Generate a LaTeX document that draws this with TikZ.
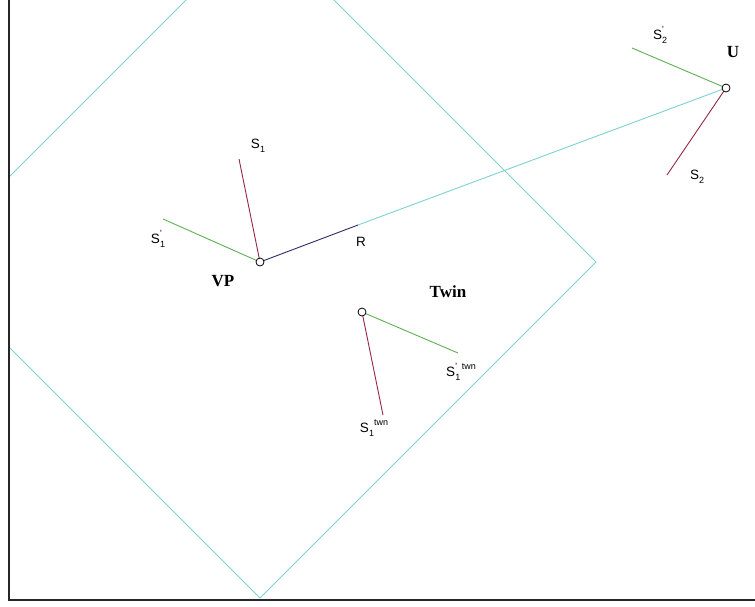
\documentclass[tikz,border=0pt]{standalone}
\usepackage{fontspec}
\setmainfont{Liberation Serif}
\newfontfamily\lsans{Liberation Sans}
\newcommand\smallidx{\fontsize{9}{9}\selectfont}
\newcommand\SP[3]{S\rlap{\raisebox{1.0ex}{\smallidx #2}}\raisebox{-0.55ex}{\smallidx #1}\raisebox{1.0ex}{\smallidx #3}}
\definecolor{greenl}{RGB}{95,175,85}
\definecolor{maroonl}{RGB}{150,40,65}
\definecolor{cyanl}{RGB}{125,210,210}
\definecolor{navyl}{RGB}{45,45,100}
\begin{document}
\begin{tikzpicture}[x=1pt,y=-1pt,
  pt/.style={circle,draw=black,line width=0.8pt,inner sep=0pt,minimum size=8pt,fill=white},
  boldlab/.style={font=\bfseries\fontsize{17}{17}\selectfont},
  slab/.style={font=\lsans\fontsize{13.5}{13.5}\selectfont,inner sep=1pt},
  gseg/.style={draw=greenl,line width=0.9pt},
  mseg/.style={draw=maroonl,line width=0.9pt},
  cseg/.style={draw=cyanl,line width=0.9pt},
  nseg/.style={draw=navyl,line width=0.9pt},
  frame/.style={draw=black!85,line width=2pt}]
\useasboundingbox (0,0) rectangle (755,606);
\fill[white] (0,0) rectangle (755,606);
% rotated square around VP
\begin{scope}
\clip (10,0) rectangle (755,599);
\draw[cseg] (260,-74) -- (596,262) -- (260,598) -- (-76,262) -- cycle;
\end{scope}
% frame
\draw[frame] (9,0) -- (9,600) -- (755,600);
% coordinates
\coordinate (s1end) at (239,159);
\coordinate (s1pend) at (163,219);
\coordinate (rend) at (358,225);
\coordinate (s2pend) at (632,48);
\coordinate (s2end) at (667,175);
\coordinate (tgend) at (458,353);
\coordinate (tmend) at (383,415);
% segments
\draw[cseg] (rend) -- (726,88);
\draw[mseg] (260,262) -- (s1end);
\draw[gseg] (260,262) -- (s1pend);
\draw[nseg] (260,262) -- (rend);
\draw[gseg] (726,88) -- (s2pend);
\draw[mseg] (726,88) -- (s2end);
\draw[gseg] (362,312) -- (tgend);
\draw[mseg] (362,312) -- (tmend);
% points
\node[pt] (vp) at (260,262) {};
\node[pt] (u) at (726,88) {};
\node[pt] (twin) at (362,312) {};
% labels
\node[boldlab] (lvp) at (223,281) {VP};
\node[boldlab] (lu) at (733,52) {U};
\node[boldlab] (ltwin) at (448,292) {Twin};
\node[slab] (ls1) at (258,146) {\SP{1}{}{}};
\node[slab] (ls1p) at (158,239) {\SP{1}{'}{}};
\node[slab] (lr) at (361,242) {R};
\node[slab] (ls2p) at (660,35) {\SP{2}{'}{}};
\node[slab] (ls2) at (697,177) {\SP{2}{}{}};
\node[slab] (ltg) at (461,372) {\SP{1}{'}{\,twn}};
\node[slab] (ltm) at (374,428) {\SP{1}{}{twn}};
\end{tikzpicture}
\end{document}
